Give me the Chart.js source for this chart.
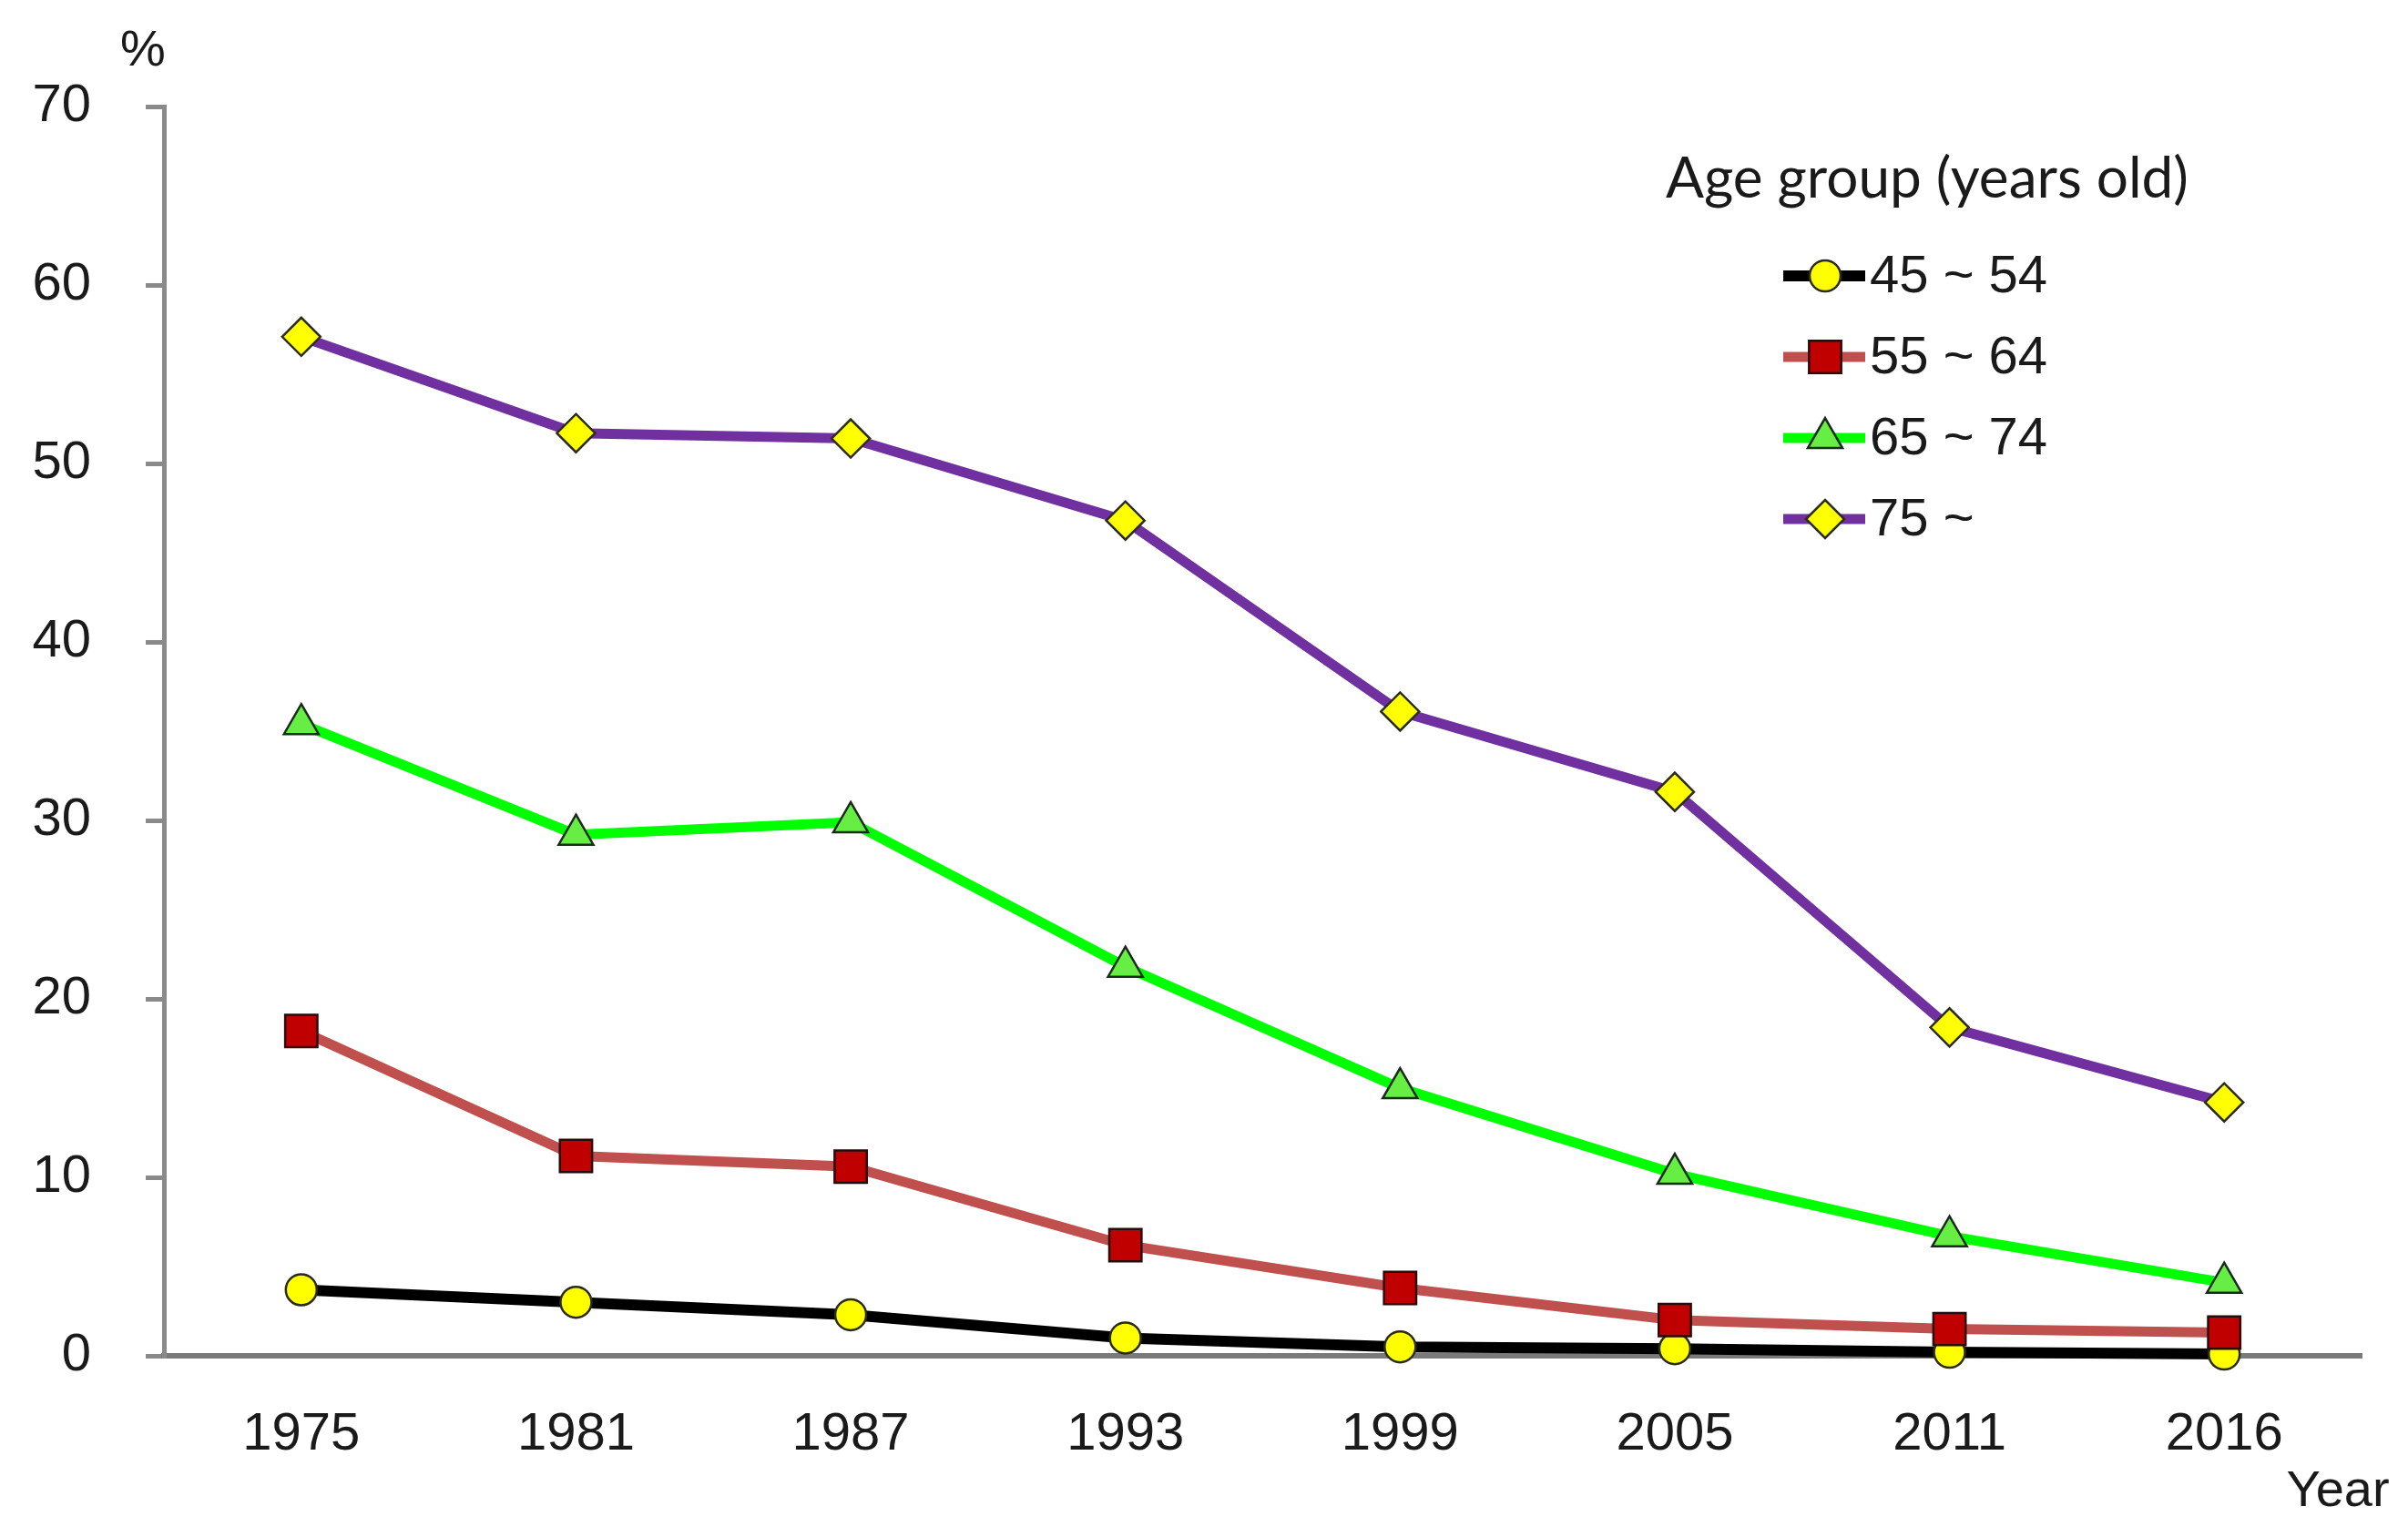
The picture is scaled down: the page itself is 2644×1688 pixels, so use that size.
<!DOCTYPE html>
<html>
<head>
<meta charset="utf-8">
<title>Age group trend</title>
<script src="https://cdn.jsdelivr.net/npm/chart.js@4.4.1/dist/chart.umd.min.js"></script>
<style>
    html, body { margin: 0; padding: 0; background: #fff; }
    #wrap { position: relative; width: 2644px; height: 1688px; }
</style>
</head>
<body>
<div id="wrap"><canvas id="chart"></canvas></div>
<script>
    // Data
    const years = ['1975', '1981', '1987', '1993', '1999', '2005', '2011', '2016'];
    const age45to54 = [3.7, 3.0, 2.3, 1.0, 0.5, 0.4, 0.2, 0.1];
    const age55to64 = [18.2, 11.2, 10.6, 6.2, 3.8, 2.0, 1.5, 1.3];
    const age65to74 = [35.4, 29.2, 29.9, 21.8, 15.0, 10.2, 6.7, 4.1];
    const age75plus = [57.1, 51.7, 51.4, 46.8, 36.1, 31.6, 18.4, 14.2];
    const seriesLabels = ['45 ~ 54', '55 ~ 64', '65 ~ 74', '75 ~'];
    const yTicks = [0, 10, 20, 30, 40, 50, 60, 70];

    const FONT = "'Liberation Sans', Arial, sans-serif";

    // Legend drawn by hand so each entry shows line + marker like the original
    const legendPlugin = {
        id: 'lineLegend',
        afterDraw(chart) {
            const ctx = chart.ctx;
            ctx.save();

            // title
            const title = 'Age group (years old)';
            let size = 62;
            ctx.font = size + "px Lato, 'Open Sans', sans-serif";
            const w = ctx.measureText(title).width;
            size = size * 574 / w;
            ctx.font = size + "px Lato, 'Open Sans', sans-serif";
            ctx.fillStyle = '#1a1a1a';
            ctx.textAlign = 'left';
            ctx.textBaseline = 'middle';
            ctx.fillText(title, 1829, 197);

            const rows = [303, 392, 481, 570];
            chart.data.datasets.forEach((ds, i) => {
                const y = rows[i];
                ctx.strokeStyle = ds.borderColor;
                ctx.lineWidth = ds.borderWidth;
                ctx.beginPath();
                ctx.moveTo(1958, y);
                ctx.lineTo(2048, y);
                ctx.stroke();

                ctx.fillStyle = ds.pointBackgroundColor;
                ctx.strokeStyle = ds.pointBorderColor;
                ctx.lineWidth = ds.pointBorderWidth;
                Chart.helpers.drawPoint(ctx, {
                    pointStyle: ds.pointStyle,
                    radius: ds.pointRadius,
                    borderWidth: ds.pointBorderWidth,
                    rotation: 0
                }, 2004, y);

                ctx.fillStyle = '#1a1a1a';
                ctx.font = '58px ' + FONT;
                ctx.textBaseline = 'middle';
                ctx.fillText(ds.label, 2053, y + 2);
            });

            // axis unit labels
            ctx.font = '56px ' + FONT;
            ctx.textAlign = 'center';
            ctx.fillText('%', 157, 57);
            ctx.fillText('Year', 2567, 1639);
            ctx.restore();
        }
    };

    const ctx = document.getElementById('chart').getContext('2d');
    new Chart(ctx, {
        type: 'line',
        data: {
            labels: years,
            datasets: [
                {
                    label: seriesLabels[0],
                    data: age45to54,
                    order: 3,
                    borderColor: '#000000',
                    borderWidth: 12,
                    pointStyle: 'circle',
                    pointRadius: 17,
                    pointBackgroundColor: '#FFFF00',
                    pointBorderColor: '#2b2b1a',
                    pointBorderWidth: 2.5
                },
                {
                    label: seriesLabels[1],
                    data: age55to64,
                    order: 2,
                    borderColor: '#C0504D',
                    borderWidth: 11,
                    pointStyle: 'rect',
                    pointRadius: 25,
                    pointBackgroundColor: '#C00000',
                    pointBorderColor: '#2a0a0a',
                    pointBorderWidth: 2.5
                },
                {
                    label: seriesLabels[2],
                    data: age65to74,
                    order: 1,
                    borderColor: '#00FF00',
                    borderWidth: 11,
                    pointStyle: 'triangle',
                    pointRadius: 22,
                    pointBackgroundColor: '#66EE44',
                    pointBorderColor: '#1a2a1a',
                    pointBorderWidth: 2.5
                },
                {
                    label: seriesLabels[3],
                    data: age75plus,
                    order: 0,
                    borderColor: '#7030A0',
                    borderWidth: 11,
                    pointStyle: 'rectRot',
                    pointRadius: 21,
                    pointBackgroundColor: '#FFFF00',
                    pointBorderColor: '#2b2b1a',
                    pointBorderWidth: 2.5
                }
            ]
        },
        options: {
            responsive: true,
            maintainAspectRatio: false,
            devicePixelRatio: 1,
            animation: false,
            clip: false,
            layout: {
                padding: { top: 117, right: 51, bottom: 0, left: 0 }
            },
            elements: {
                line: { tension: 0 }
            },
            plugins: {
                legend: { display: false },
                tooltip: { enabled: false }
            },
            scales: {
                x: {
                    offset: true,
                    grid: {
                        display: true,
                        drawOnChartArea: false,
                        drawTicks: false
                    },
                    border: { display: true, color: '#7a7a7a', width: 6 },
                    ticks: {
                        padding: 52,
                        color: '#1a1a1a',
                        font: { family: FONT, size: 58 }
                    },
                    afterFit: function(scale) { scale.height = 199; }
                },
                y: {
                    min: 0,
                    max: 70,
                    afterBuildTicks: function(scale) {
                        scale.ticks = yTicks.map(v => ({ value: v }));
                    },
                    grid: {
                        display: true,
                        drawOnChartArea: false,
                        drawTicks: true,
                        tickLength: 20,
                        color: '#8a8a8a',
                        lineWidth: 5
                    },
                    border: { display: true, color: '#8a8a8a', width: 5 },
                    ticks: {
                        padding: 60,
                        color: '#1a1a1a',
                        font: { family: FONT, size: 58 }
                    },
                    afterFit: function(scale) { scale.width = 180; }
                }
            }
        },
        plugins: [legendPlugin]
    });
</script>
</body>
</html>
